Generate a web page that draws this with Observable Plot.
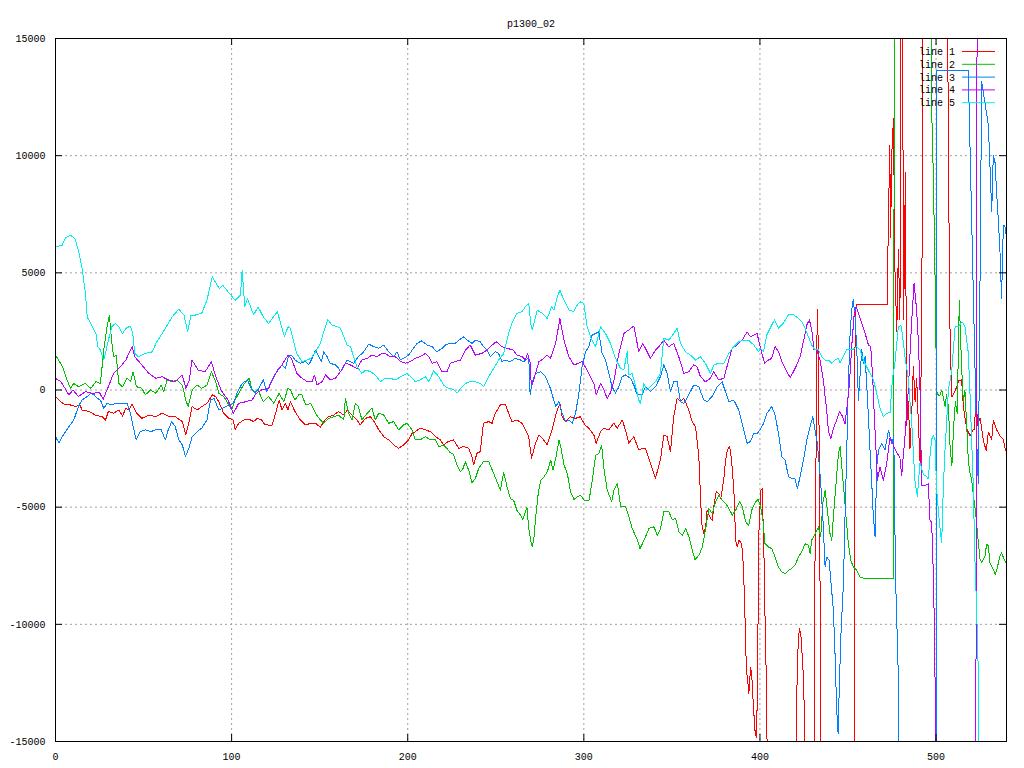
<!DOCTYPE html>
<html>
<head>
<meta charset="utf-8">
<script src="https://cdn.jsdelivr.net/npm/d3@7"></script>
<script src="https://cdn.jsdelivr.net/npm/@observablehq/plot@0.6"></script>
<style>
  html, body { margin: 0; padding: 0; background: #ffffff; }
  #chart svg { display: block; }
</style>
</head>
<body>
<div id="chart"></div>
<script>
const title = "p1300_02";
const seriesNames = ["line 1", "line 2", "line 3", "line 4", "line 5"];
const seriesColors = ["#ff0000", "#00c000", "#0080ff", "#c000ff", "#00eeee"];
const xTicks = [0, 100, 200, 300, 400, 500];
const yTicks = [-15000, -10000, -5000, 0, 5000, 10000, 15000];

// [x, value] samples (values beyond ±15000 are off-scale)
const line1 = [[0,-280],[3,-500],[5.7,-640],[8.5,-640],[11.4,-710],[14,-640],[15,-850],[19,-920],[22.7,-1070],[26.5,-1140],[28.4,-1280],[30,-920],[33,-990],[36,-850],[38,-1110],[40,-780],[41.6,-850],[43.5,-600],[46,-990],[49,-1210],[53,-1070],[57,-1140],[60.5,-990],[64,-1110],[68,-1140],[72,-1350],[74,-1920],[75.7,-1420],[77.6,-710],[80.4,-850],[83,-710],[86,-570],[89,-210],[91,-280],[92.7,-500],[95.5,-990],[98.4,-1210],[101,-1280],[102,-1700],[104,-1420],[107,-1280],[110,-1250],[112.5,-1350],[114.5,-1210],[117,-1280],[119,-1490],[123,-1500],[125,-990],[127,-430],[128.6,-850],[130.5,-570],[132,-850],[133.4,-500],[136,-920],[139,-1280],[142,-1490],[145,-1420],[147.6,-1420],[150.4,-1590],[152.3,-1350],[155,-1140],[158,-1070],[160.8,-920],[163.7,-1070],[165.6,-850],[168.4,-1070],[171.2,-1280],[173,-1490],[176,-1210],[178.8,-1140],[181.6,-1420],[183.5,-1700],[186.4,-1990],[189.2,-2130],[192,-2340],[194.9,-2490],[197.7,-2340],[200.5,-2130],[202.5,-1850],[204.3,-1780],[207,-1630],[210,-1700],[212.9,-1780],[215.7,-1990],[218.5,-2130],[220.4,-2340],[223,-2200],[226,-2130],[229,-2490],[231.8,-2410],[234.6,-2490],[236.5,-2840],[237.4,-3200],[239.3,-2700],[241.2,-2630],[243,-1420],[246,-1350],[247.9,-1420],[249.7,-990],[252.6,-640],[255.4,-600],[257.3,-990],[259.2,-1350],[262,-1280],[264.9,-1420],[266.8,-1700],[268.7,-1990],[270.3,-2910],[272.6,-2270],[274.5,-1920],[276.4,-2060],[279.2,-2340],[282,-1700],[284.3,-990],[286.4,-570],[287.7,-1140],[289.6,-1350],[292.4,-1140],[295.3,-1210],[298,-1140],[300.6,-1490],[302.8,-1630],[305.7,-1920],[307,-2270],[309.5,-1780],[311.4,-1630],[314.2,-1700],[317,-1420],[319,-1630],[321.8,-1280],[323.6,-1700],[325.5,-2270],[328.4,-1990],[331.2,-2560],[333,-2490],[335,-2490],[337.8,-3120],[340.7,-3760],[343.5,-2980],[345.4,-1920],[347.3,-1990],[349.2,-2630],[351,-1140],[353,-355],[354.9,-500],[356.8,-355],[359.6,-850],[361.5,-1350],[363.4,-1560],[365.3,-2840],[366.9,-5700],[368.2,-6130],[369.2,-5840],[370,-5130],[372,-5490],[372.9,-5560],[373.9,-4920],[375.2,-4340],[376.7,-4420],[377.7,-4630],[378.6,-4270],[379.6,-3700],[380.5,-2990],[381.5,-2560],[382.8,-2390],[383.9,-2990],[385.2,-4270],[386.2,-6410],[387.1,-6700],[388.1,-6410],[389.6,-6550],[390.5,-7410],[391.3,-8980],[391.9,-10970],[392.4,-11970],[393.4,-12680],[393.7,-12970],[394.7,-11830],[395.3,-12110],[396.2,-13400],[397.2,-14530],[397.9,-14820],[398.5,-13250],[399,-9260],[399.4,-6130],[400.4,-4280],[401.3,-4200],[402.3,-7120],[402.8,-9400],[403.3,-11100],[403.9,-13700],[404.5,-20000],[420.3,-20000],[420.9,-12970],[421.7,-10830],[422.4,-10190],[423.2,-10400],[423.9,-11260],[424.7,-12260],[425.3,-14110],[425.9,-20000],[430.9,-20000],[431.3,-6410],[431.9,-2570],[432.3,1710],[432.6,3420],[433.2,1710],[433.8,-3990],[434.2,-9410],[434.7,-20000],[453.5,-20000],[454,2280],[454.6,3630],[472.4,3630],[472.6,5600],[473.7,10440],[474.2,6500],[474.8,10000],[475.8,11580],[476.7,5000],[477.7,2500],[478.6,6000],[479.5,3000],[480.5,25000],[481.6,3000],[482.6,9300],[483.3,-1500],[484.3,-500],[485.2,-2500],[486.2,-1000],[487.1,1000],[488.1,-500],[489,500],[490,-1500],[491,-3200],[492,5000],[493,25000],[506,25000],[507,10000],[508,2000],[509,-300],[511,0],[513,400],[514.5,440],[515.5,-700],[517.4,-1660],[519.3,-1950],[521,-1700],[522,-1700],[522.5,500],[523.5,-1500],[525,-1200],[527,-2200],[528.5,-2600],[529.7,-1800],[531.6,-2100],[532.5,-1300],[534.4,-1700],[536.3,-1950],[538.2,-2100],[539.5,-2600]];

const line2 = [[0,1490],[4,990],[6.6,430],[8.5,70],[10.4,280],[13,140],[17,280],[20,70],[23,355],[25.5,280],[27.4,1700],[29.3,2700],[30.6,3200],[31.8,2130],[33,1420],[34.4,1490],[36,280],[38,140],[40.7,500],[42.6,355],[44,780],[46,140],[49,70],[51,-210],[54,0],[57,-140],[60,210],[61.5,-70],[63.4,430],[66,355],[69,430],[72,210],[74,-430],[75.3,-710],[77.6,0],[80.4,210],[83,70],[86,210],[88.5,780],[91,355],[92.7,-140],[95.5,-280],[97.4,-500],[100,-850],[102,-430],[105,0],[108,355],[110,500],[111.6,0],[113.5,-70],[115,0],[118,-500],[121,-280],[124,-570],[127,-140],[129.6,-500],[132,70],[133.4,0],[136,-430],[138,-210],[140,-210],[142,-640],[145,-570],[147.6,-990],[150.4,-1280],[152.3,-1420],[155,-1210],[158,-1140],[160.8,-1070],[163.7,-1280],[164.6,-355],[166.5,-990],[168.4,-1280],[170.3,-570],[172,-710],[174,-1280],[177,-990],[179.7,-780],[181.6,-1280],[183.5,-990],[186.4,-1070],[189.2,-1420],[192,-1350],[194.9,-1700],[197.7,-1490],[199.6,-1420],[202.5,-1700],[204.3,-2130],[207,-2130],[210,-1990],[212.9,-2130],[215.7,-2130],[217.6,-2420],[220.4,-2350],[222.3,-2490],[224.2,-2680],[226,-2740],[228,-3200],[230,-3490],[231.4,-3350],[232.7,-3060],[234.6,-3420],[236.5,-3950],[238.4,-3780],[240.3,-3350],[243,-3060],[246,-3060],[248.8,-3560],[250.7,-3920],[252.6,-4270],[254.5,-3520],[256.4,-4130],[258.3,-4630],[260.1,-4700],[262,-5130],[264,-5340],[265.4,-5530],[267.7,-4990],[268.7,-5910],[269.8,-6410],[270.8,-6700],[271.7,-6270],[272.7,-5410],[274.2,-4350],[275.5,-3850],[277.4,-3700],[279.3,-3490],[281.2,-2990],[282.5,-3420],[284.4,-2780],[285.9,-2140],[286.9,-2420],[288.8,-3210],[290.6,-3560],[292.5,-4350],[294.4,-4670],[296.3,-4560],[298.2,-4490],[300.1,-4700],[303,-4700],[304.8,-3850],[306.7,-2780],[308.6,-2710],[310.1,-2350],[311.5,-3420],[313.3,-4270],[315.8,-4770],[317.1,-4270],[319,-3990],[320.9,-4960],[323.8,-4990],[325.6,-5410],[327.5,-5910],[330.4,-6410],[331.9,-6770],[334.2,-6410],[337,-5910],[339.8,-5840],[341.7,-6200],[343.6,-5910],[345.5,-5160],[348.3,-5200],[350.2,-5530],[352.1,-5490],[354,-6060],[355.9,-6200],[357.8,-5910],[359.7,-6270],[361.6,-6840],[363.1,-7240],[365.4,-7050],[367.3,-6700],[369.2,-5910],[371,-5060],[372.9,-5270],[374.8,-4770],[376.7,-4490],[378.6,-4700],[380.5,-4840],[382.4,-5060],[384.3,-5340],[386.2,-5130],[388.5,-4770],[390,-4990],[391.9,-5630],[393.7,-5770],[395.6,-5060],[397.5,-4770],[399,-4670],[400.4,-4990],[401.7,-5560],[402.8,-6550],[404.8,-6700],[406.7,-6770],[408.6,-7130],[410.5,-7550],[412.4,-7770],[414.3,-7840],[416.2,-7700],[418,-7620],[419.9,-7480],[421.9,-7130],[423.7,-6910],[425.6,-6560],[427.5,-6630],[428.5,-6980],[429.4,-6410],[431.3,-6130],[433.2,-5840],[434.5,-6270],[435.7,-4850],[437,-4280],[438.3,-5130],[439.8,-6130],[440.8,-6410],[441.7,-5420],[443.2,-3990],[444.6,-2710],[445.5,-2420],[446.5,-3280],[447.8,-4420],[448.9,-5420],[450.2,-6560],[451.6,-7270],[453,-7550],[455,-7700],[456.8,-7980],[459.7,-8050],[475.8,-8050],[476.5,25000],[496,25000],[497.5,12000],[498.5,9000],[499.4,5000],[500.3,0],[501,-200],[502.2,-240],[503.2,0],[504.1,-300],[505.1,-700],[506,-200],[507,-700],[508,-2500],[509,-3230],[510,-1500],[511,-500],[512,-1000],[513.2,3820],[514.5,1000],[515.5,-500],[516.4,0],[517.4,-1500],[518.3,-3000],[519.2,-3500],[520.2,-3800],[521.2,-4500],[522,-4950],[523,-5650],[524,-6510],[525,-7230],[525.9,-7370],[527.8,-7080],[528.7,-6580],[529.7,-6650],[530.6,-7370],[532.5,-7650],[533.5,-7870],[534.4,-7720],[535.4,-7370],[536.3,-7080],[537.2,-6940],[538.6,-7220],[539.5,-7370]];

const line3 = [[0,-1990],[2,-2270],[3.8,-1990],[7.6,-1560],[10.4,-1280],[13,-710],[15,-430],[18,-280],[20,-140],[22,-210],[23.6,-350],[25.5,-430],[27.4,-780],[29.3,-570],[32,-640],[34,-570],[38,-570],[40.7,-570],[42.6,-990],[44.5,-1700],[45.8,-2130],[48,-1780],[51,-1700],[54,-1780],[57,-1700],[60,-1700],[62.4,-2130],[64,-1700],[66,-1350],[68,-1560],[70,-2130],[72,-2340],[73.8,-2840],[75.7,-2490],[77.6,-1990],[80.4,-1780],[83,-1630],[86,-1280],[88,-430],[90,-360],[92.7,-850],[96.5,-710],[99.3,-640],[101,-570],[103,-140],[106,280],[109,430],[110.7,140],[113.5,-140],[116,140],[118,430],[120,-70],[123,430],[126,850],[128.6,1070],[130.5,920],[132.4,1490],[134,1490],[136,1280],[139,1140],[142,1210],[143.8,1070],[145.7,1350],[147.6,1700],[149.5,1420],[151,1210],[152.3,1630],[154.2,1420],[156,1140],[159,1070],[160.8,920],[161.8,780],[163.7,990],[165.6,1280],[167.5,1210],[169.3,1140],[172,1420],[175,1630],[177.9,1960],[180.7,1850],[183.5,1780],[186.4,1920],[189.2,1630],[192,1420],[193.9,1630],[195.8,1280],[197.7,1350],[200.5,1490],[202.5,1700],[205.3,1990],[208,2100],[211,1920],[213.8,1850],[216.6,1630],[219.5,1780],[221.4,1920],[224.2,1990],[227,1990],[229,2130],[231.8,2270],[233.7,2130],[236.5,1990],[238.4,2130],[241.2,2060],[243,1850],[245,1700],[246.9,1420],[249.7,1630],[251.6,1560],[253.5,1210],[255.4,1280],[258.3,1210],[261,1350],[264,1280],[265.8,1210],[268,1350],[268.8,1280],[269.5,-210],[270.7,355],[272.6,710],[275.4,780],[278.2,570],[281,70],[284,-710],[285.8,-500],[287.7,-990],[289.6,-1350],[291.5,-1280],[293.4,-1420],[295.3,-990],[297.2,-140],[299,990],[301,1630],[302.8,1850],[304.7,2340],[306.6,2410],[308.5,2480],[310.4,1560],[312.3,1280],[314.2,710],[316,140],[318,-140],[319.9,140],[321.8,570],[323.6,640],[326.5,500],[328.4,210],[330.3,-210],[333.1,-210],[335,140],[337.8,-70],[340.7,140],[343.5,570],[345.4,1070],[347.3,710],[349.2,-70],[351,355],[353,355],[354.9,-500],[356.8,-570],[358.6,-350],[360.5,-70],[362.4,210],[365.3,140],[368.1,-430],[370,-500],[372.8,-280],[375.7,140],[378.5,355],[380.4,-70],[382.3,-500],[385.1,-430],[388,-850],[390.8,-1700],[392.7,-2270],[394.6,-2200],[396.5,-1850],[398.4,-1850],[400.1,-1710],[402,-1430],[403.9,-1000],[406.7,-710],[408.6,-1070],[410.5,-1850],[412.4,-2850],[414.3,-2990],[416.2,-3700],[418,-3780],[419.9,-3780],[421.3,-4200],[422.8,-3700],[424.7,-2990],[426.6,-2140],[428.5,-1570],[430,-1140],[431.3,-1710],[432.6,-2280],[433.8,-3280],[434.5,-3990],[435.7,-5420],[437,-7550],[437.9,-7130],[439.3,-7270],[440.4,-8270],[441.7,-9410],[442.7,-11400],[443.6,-13680],[444.4,-14680],[445.1,-12540],[446,-10400],[447.4,-8270],[448.3,-5420],[449.3,-2570],[450.2,280],[451.2,2420],[452.1,3420],[453,3850],[454,3130],[455,1710],[455.9,-430],[456.8,570],[457.8,1710],[458.7,1140],[459.7,1420],[460.6,280],[461.6,-1140],[462.5,-2570],[463.5,-3990],[464.4,-5420],[465.4,-6270],[466.3,-3280],[467.3,-2570],[469.2,-2280],[471,-2570],[473,-1710],[474.8,-2300],[476,-2000],[477,-8000],[478.5,-12000],[479.3,-20000],[500,-20000],[500.3,13650],[518.3,13650],[520,8000],[521.5,3000],[523,-2000],[524,-4000],[525,5000],[525.9,13150],[528,12150],[529.7,11300],[530.6,9600],[531.6,7600],[532.5,10000],[533.5,9700],[534.4,8400],[535.4,7200],[536.3,5900],[537.2,3900],[538.2,7000],[539.1,7000],[540,6500]];

const line4 = [[0,500],[3,355],[6,0],[7.5,-210],[10,0],[13,-280],[17,-70],[21,-140],[25,-110],[27,-400],[30,140],[33,710],[36,920],[40,1280],[42,1630],[43.5,1850],[45,1420],[49,1070],[53,710],[57,500],[60.5,570],[64,430],[68,355],[72,640],[74,70],[76,430],[77.5,1280],[81,850],[85,780],[88.5,1210],[91,570],[94,0],[96.5,-280],[98,-430],[101,-1000],[104,-570],[108,-500],[111.6,-430],[114,-140],[117,0],[121,70],[125,710],[128.6,1070],[132,1490],[134,1350],[135,1140],[137,710],[140,500],[143,355],[145.7,355],[147,640],[148.5,210],[151.4,355],[153.3,640],[156,430],[159,500],[161.8,780],[164.6,1140],[167.5,1070],[171.2,920],[174,1280],[177,1350],[179.7,1490],[182.6,1420],[185.4,1560],[187.3,1560],[190,1420],[193,1420],[196,1210],[198.7,1140],[201.5,1210],[204.3,1350],[207,1420],[210,1560],[212,1420],[213.8,1140],[216.6,1210],[219.5,780],[222.3,780],[224.2,1140],[227,1210],[230,1280],[232.7,1700],[235.5,1920],[238.4,1490],[242,1560],[245,1700],[247.9,1920],[250.3,2060],[253.5,1850],[256.4,1780],[260,1700],[262,1490],[264.9,1420],[266.8,1280],[268,1560],[269.6,1140],[270,430],[270.7,210],[272.6,710],[274.5,1210],[277.3,1350],[279.2,1490],[281,1350],[284,1990],[286.4,3050],[288.7,2130],[291.5,1420],[294.3,1070],[297,1140],[299,1210],[301.9,850],[303.8,570],[305.7,280],[307,-210],[309.5,280],[311.4,0],[313.2,-355],[315,-140],[317,355],[319.9,1560],[322.7,2410],[325.5,2560],[328.4,2730],[331.2,1630],[333.5,1990],[336,1630],[337.8,1350],[340.7,1700],[342.6,1850],[345.4,2130],[348.2,1850],[351,1990],[353.9,1420],[356.8,710],[359.6,780],[362.4,1070],[364.3,990],[366.2,570],[369,355],[371.9,500],[373.8,780],[376.6,430],[379.5,500],[382.3,1280],[384.2,1780],[387,1920],[389.9,2130],[392.7,2480],[394.6,2270],[396.5,2340],[398.4,2410],[400.3,1780],[401.6,1420],[402.7,1140],[404.8,1280],[406.7,1350],[408.6,1850],[410.5,1640],[412.4,1210],[414.3,920],[417.1,540],[419,780],[420.9,1070],[422.8,1420],[424.7,2070],[426.6,2780],[428.1,2990],[429.4,2570],[430.7,1710],[432.3,1710],[434.1,1280],[436,430],[437,-290],[437.9,-860],[438.9,-1740],[440.2,-2090],[441.7,-1640],[443.6,-1280],[445.1,-930],[446.5,-1070],[448.3,-1430],[449.7,-570],[450.8,250],[452.1,1850],[453.4,3130],[454.6,3560],[455.9,3280],[457.8,2850],[459.7,2420],[461.6,1920],[462.9,1850],[464,570],[464.8,-860],[465.9,-2570],[466.7,-3850],[468.2,-3280],[470.1,-3850],[472,-3140],[473.9,-2000],[476,-2400],[478,-2700],[479.5,-2900],[480.5,-3660],[481.4,-2800],[482.4,-1950],[483.3,-950],[484.3,40],[485.2,1500],[486.2,3000],[487.5,4550],[489,3400],[490,2000],[490.9,0],[491.8,-4090],[493.7,-4090],[495.6,-4000],[496.6,-5600],[497.5,-5600],[498.5,-7940],[499,-9950],[499.6,-13350],[500.2,-20000],[522.5,-20000],[523.5,25000],[540,25000]];

const line5 = [[0,6100],[3.8,6180],[5.7,6500],[8.5,6600],[11,6460],[13,5960],[15,5250],[17,4120],[18,3120],[21,2700],[23,2400],[24,1850],[25.5,1700],[27.4,1280],[28.4,1560],[30,2130],[32,2700],[34,2840],[36,2700],[38,2400],[40,2630],[42.5,2730],[43.9,2400],[45,1560],[47,1420],[51,1560],[55,1630],[57,1990],[60.5,2400],[64,2840],[67,3200],[70,3440],[73,3200],[75,2480],[77,3200],[79.5,3200],[83,3270],[86,3830],[89,4830],[93,4330],[95,4470],[98,4190],[102,3830],[105,4050],[106,5110],[107.5,3550],[109,3900],[112.5,3200],[115,3550],[118,3120],[121,2840],[126,3340],[130,2270],[132,2700],[133.4,2630],[135,2130],[137,1560],[140,1210],[143,1280],[145,1350],[147.6,1630],[150.4,1990],[152.3,2480],[154.6,3010],[157,2770],[160,2700],[161.8,2630],[163.7,2270],[165.6,1920],[167.5,1850],[169.3,1420],[171.2,990],[174,710],[176,850],[179,780],[181.6,640],[184.5,355],[187.3,500],[190,500],[193,430],[196,570],[199.6,710],[202.5,500],[204.3,355],[207,430],[210,570],[212,355],[214.7,820],[217.6,570],[220.4,210],[223,70],[226,30],[228,-140],[230,70],[232.7,280],[235.5,355],[238.4,355],[241.2,280],[243,140],[246,570],[248.8,920],[251.6,1280],[254.5,1560],[257.3,2410],[259.2,2840],[262,3270],[264.9,3340],[266.8,3550],[268.7,3690],[270,2770],[270.7,2560],[273.5,3410],[276.4,3270],[279.2,3050],[281.7,3550],[283,3410],[285,3980],[286.4,4260],[288.7,3830],[291.5,3410],[294.3,3340],[296.2,3620],[298,3760],[300,3690],[301.9,2700],[303.8,2270],[306.6,1850],[309.5,2700],[312.3,2410],[315.1,1990],[318,1350],[320.8,920],[322.7,850],[324.6,1630],[325.5,640],[327.4,710],[329.3,210],[331.2,-430],[332.2,-570],[334,280],[336,0],[337.8,140],[340.7,355],[343.5,710],[345.4,2200],[348.2,2130],[351,2410],[353,2630],[354.9,1990],[357.7,1630],[360.5,1490],[363.4,1280],[366.2,1420],[369,1140],[371.9,710],[373.8,1070],[376.6,1140],[379.5,1140],[382.3,1560],[385.1,1850],[388,2060],[390.8,2130],[393.6,2130],[396.5,1920],[399.3,1630],[400.1,1780],[402,1640],[403.9,2350],[405.8,2640],[408.2,2990],[410.5,2640],[413.3,2850],[416.2,3210],[419,3210],[421.9,3060],[423.7,2920],[425.6,2640],[427.5,2280],[429.4,1920],[431.3,1710],[433.2,1710],[435.1,1420],[437,1280],[438.9,1280],[440.8,1140],[442.7,1280],[444.6,1350],[445.5,1170],[447.4,1450],[449.3,1710],[451.2,1710],[453,1740],[455,1850],[456.8,1710],[458.7,1280],[460.6,990],[462.5,710],[464.4,430],[466.3,-140],[468.2,-785],[470.1,-1140],[472,-1000],[473.9,-960],[474.8,40],[475.5,600],[476.7,1200],[478.6,2700],[480,2750],[480.5,2600],[482.4,1400],[484.3,440],[485.2,-500],[486.2,-1400],[487,-2500],[488.1,-3960],[489.4,-4530],[490.9,-3100],[492.8,-3600],[494.7,-3700],[495.6,-3800],[496.6,-2800],[497.5,-2100],[498.5,-1950],[499.4,-2100],[500.3,-4230],[501.9,-5660],[503.2,-6510],[504.1,-4230],[505.1,-2520],[506,-1380],[507,0],[508.9,820],[510.8,2700],[512.7,2700],[514.5,2900],[515.5,2850],[516.4,2700],[518.3,1600],[519.2,0],[520.2,-2100],[521.2,-4230],[522,-7080],[523,-9220],[524,-12070],[525,-20000],[540,-20000]];

const allSeries = [line1, line2, line3, line4, line5];

const W = 1024, H = 768;
const mT = 38, mB = 27, mL = 55, mR = 18;
const font = "'Liberation Mono', 'DejaVu Sans Mono', monospace";
const frameH = H - mT - mB;
const frameW = W - mL - mR;
const tickLen = 7;

const lineMarks = allSeries.map((s, i) =>
  Plot.line(s, {x: d => d[0], y: d => d[1], stroke: seriesColors[i], strokeWidth: 1, clip: true, curve: "linear", shapeRendering: "crispEdges"})
);

const chart = Plot.plot({
  width: W, height: H,
  marginTop: mT, marginBottom: mB, marginLeft: mL, marginRight: mR,
  style: {fontFamily: font, fontSize: "10px", background: "#ffffff", color: "#000000"},
  x: {domain: [0, 540]},
  y: {domain: [-15000, 15000]},
  marks: [
    Plot.gridX(xTicks, {stroke: "#a0a0a0", strokeOpacity: 1, strokeDasharray: "2,3"}),
    Plot.gridY(yTicks, {stroke: "#a0a0a0", strokeOpacity: 1, strokeDasharray: "2,3"}),
    ...lineMarks,
    Plot.frame({stroke: "#000000"}),
    Plot.tickX(xTicks, {x: d => d, stroke: "#000000", insetTop: frameH - tickLen}),
    Plot.tickX(xTicks, {x: d => d, stroke: "#000000", insetBottom: frameH - tickLen}),
    Plot.tickY(yTicks, {y: d => d, stroke: "#000000", insetRight: frameW - tickLen}),
    Plot.tickY(yTicks, {y: d => d, stroke: "#000000", insetLeft: frameW - tickLen}),
    Plot.axisX(xTicks, {tickSize: 0, tickPadding: 11, tickFormat: d => String(d), label: null, fontSize: 10}),
    Plot.axisY(yTicks, {tickSize: 0, tickPadding: 10, tickFormat: d => String(d), label: null, fontSize: 10}),
    Plot.text([title], {text: d => d, frameAnchor: "top", dy: -19, fontSize: 10, fill: "#000000"})
  ]
});

document.getElementById("chart").appendChild(chart);

// key (legend) in the top-right corner, gnuplot style
const svg = d3.select(chart);
const key = svg.append("g").attr("font-family", font).attr("font-size", 10);
const keyTextRight = W - mR - 51;
const keyLineX1 = W - mR - 44;
const keyLineX2 = W - mR - 11;
seriesNames.forEach((name, i) => {
  const yy = mT + 13.5 + i * 12.8;
  key.append("text")
    .attr("x", keyTextRight).attr("y", yy)
    .attr("text-anchor", "end").attr("dy", "0.35em")
    .attr("fill", "#000000").text(name);
  key.append("line")
    .attr("x1", keyLineX1).attr("x2", keyLineX2)
    .attr("y1", yy).attr("y2", yy)
    .attr("stroke", seriesColors[i]).attr("stroke-width", 1);
});
</script>
</body>
</html>
